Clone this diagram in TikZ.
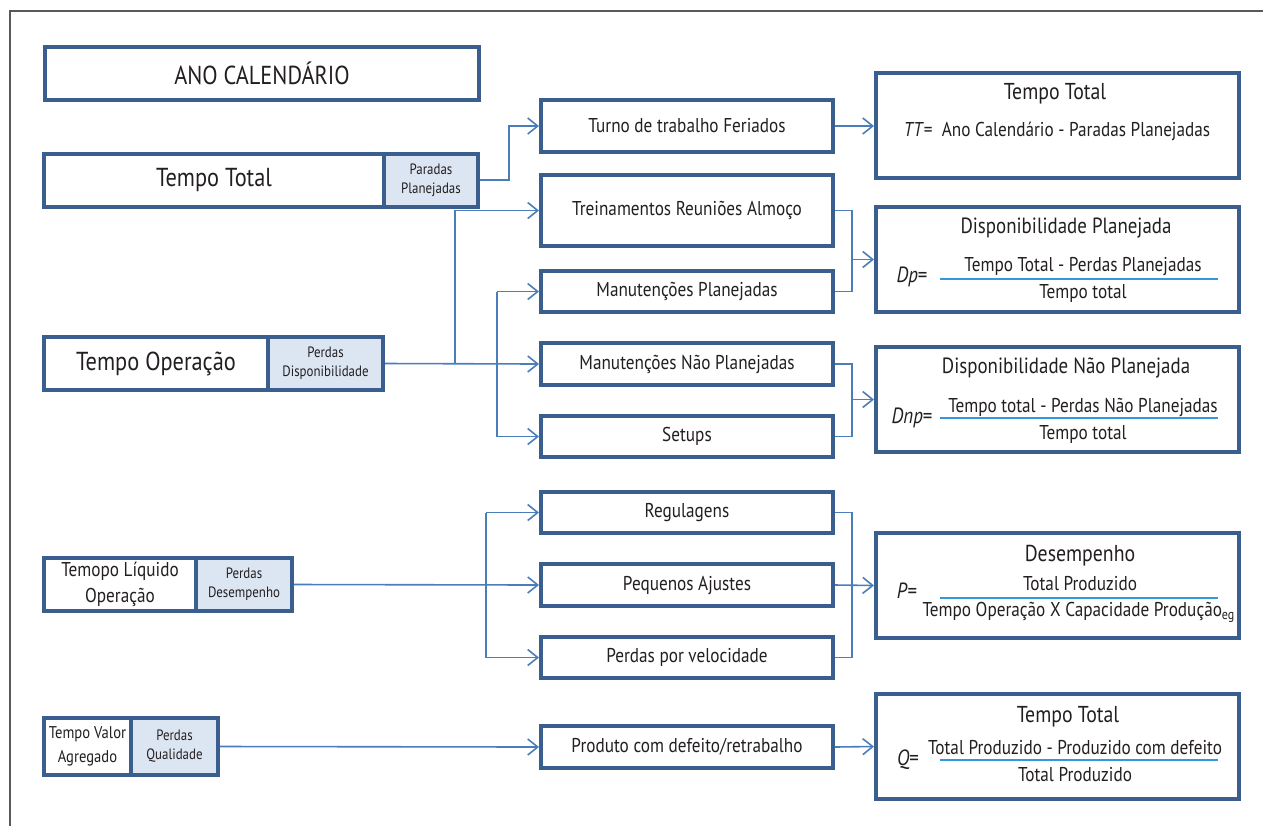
\documentclass[tikz,border=0pt]{standalone}
\usepackage{fontspec}
\setmainfont{PT Sans}[FakeStretch=0.86]
\usetikzlibrary{arrows.meta}
\definecolor{boxblue}{HTML}{3A5F8F}
\definecolor{linkblue}{HTML}{4A7EBB}
\definecolor{lossfill}{HTML}{DCE6F2}
\definecolor{fracblue}{HTML}{3399DD}
\definecolor{inkgray}{HTML}{231F20}
\newcommand{\fsz}[1]{\fontsize{#1}{#1}\selectfont}
\newcommand{\fszl}[2]{\fontsize{#1}{#2}\selectfont}

\begin{document}
\begin{tikzpicture}[x=0.5pt, y=-0.5pt, >={Straight Barb[length=5pt, width=8pt]},
    every node/.style={inner sep=0pt, text=inkgray},
    box/.style={draw=boxblue, line width=2pt, fill=white, align=center},
    loss/.style={box, fill=lossfill, font=\fszl{7.5}{9.5}},
    conn/.style={draw=linkblue, line width=0.8pt},
    frac/.style={draw=fracblue, line width=0.6pt}]
    \useasboundingbox (0,0) rectangle (1263,826);
    \draw[gray!70!black, line width=0.9pt] (10,826) -- (10,11) -- (1263,11);

    % Left column
    \node[box, minimum width=217pt, minimum height=26.5pt, font=\fsz{13}] (ano) at (262,73.5) {ANO CALENDÁRIO};
    \node[box, minimum width=170pt, minimum height=26.5pt, font=\fsz{13}] (tt) at (214,180) {Tempo Total};
    \node[loss, minimum width=47pt, minimum height=26.5pt] (pp) at (431,180) {Paradas\\Planejadas};
    \node[box, minimum width=112pt, minimum height=26.5pt, font=\fsz{13}] (top) at (156,363.5) {Tempo Operação};
    \node[loss, minimum width=57.5pt, minimum height=26.5pt] (pd) at (325.5,363.5) {Perdas\\Disponibilidade};
    \node[box, minimum width=76pt, minimum height=26.5pt, font=\fszl{10}{13}] (tlo) at (120,584.5) {Temopo Líquido\\Operação};
    \node[loss, minimum width=48pt, minimum height=26.5pt] (pdes) at (244,584.5) {Perdas\\Desempenho};
    \node[box, minimum width=43.5pt, minimum height=28.5pt, font=\fszl{8.5}{12}] (tva) at (87.5,746.5) {Tempo Valor\\Agregado};
    \node[loss, minimum width=43.5pt, minimum height=28.5pt] (pq) at (174.5,746.5) {Perdas\\Qualidade};

    % Middle column - losses
    \tikzset{cause/.style={box, minimum width=146pt, font=\fsz{10}}}
    \node[cause, minimum height=26pt] (turno) at (687,126) {Turno de trabalho Feriados};
    \node[cause, minimum height=35.5pt] (treina) at (687,210.5) {Treinamentos Reuniões Almoço};
    \node[cause, minimum height=20.5pt] (manplan) at (687,291.5) {Manutenções Planejadas};
    \node[cause, minimum height=21pt] (mannplan) at (687,364) {Manutenções Não Planejadas};
    \node[cause, minimum height=20.5pt] (setups) at (687,436.5) {Setups};
    \node[cause, minimum height=20.5pt] (regul) at (687,512.5) {Regulagens};
    \node[cause, minimum height=21pt] (ajustes) at (687,585) {Pequenos Ajustes};
    \node[cause, minimum height=20.5pt] (veloc) at (687,657.5) {Perdas por velocidade};
    \node[cause, minimum height=21pt] (defeito) at (687,747) {Produto com defeito/retrabalho};

    % Right column - indicators
    \tikzset{ind/.style={box, minimum width=181.5pt, minimum height=52.5pt}}
    \node[ind] (ftt) at (1057.5,125.5) {};
    \node[ind] (fdp) at (1057.5,259.5) {};
    \node[ind] (fdnp) at (1057.5,399.5) {};
    \node[ind] (fp) at (1057.5,585.5) {};
    \node[ind] (fq) at (1057.5,746.5) {};

    \node[font=\fsz{11.5}] (ftt-t) at (1055,94) {Tempo Total};
    \node[font=\fsz{10}] (ftt-f) at (1057,131) {\textit{TT}= \ Ano Calendário - Paradas Planejadas};

    \node[font=\fsz{11}] (fdp-t) at (1066,228) {Disponibilidade Planejada};
    \node[font=\fsz{11}] (fdp-l) at (912,277) {\textit{Dp}=};
    \node[font=\fsz{10}] (fdp-n) at (1083,267) {Tempo Total - Perdas Planejadas};
    \node[font=\fsz{10}] (fdp-d) at (1083,293) {Tempo total};
    \draw[frac] (940,279) -- (1218,279);

    \node[font=\fsz{11}] (fdnp-t) at (1066,368) {Disponibilidade Não Planejada};
    \node[font=\fsz{11}] (fdnp-l) at (912,418) {\textit{Dnp}=};
    \node[font=\fsz{10}] (fdnp-n) at (1083,407) {Tempo total - Perdas Não Planejadas};
    \node[font=\fsz{10}] (fdnp-d) at (1083,434) {Tempo total};
    \draw[frac] (940,418) -- (1218,418);

    \node[font=\fsz{11.5}] (fp-t) at (1080,556) {Desempenho};
    \node[font=\fsz{11}] (fp-l) at (907,591) {\textit{P}=};
    \node[font=\fsz{10}] (fp-n) at (1080,584) {Total Produzido};
    \node[font=\fsz{10}] (fp-d) at (1079,612) {Tempo Operação X Capacidade Produção\textsubscript{eg}};
    \draw[frac] (940,598) -- (1218,598);

    \node[font=\fsz{11.5}] (fq-t) at (1068,717) {Tempo Total};
    \node[font=\fsz{11}] (fq-l) at (908,760) {\textit{Q}=};
    \node[font=\fsz{10}] (fq-n) at (1075,748) {Total Produzido - Produzido com defeito};
    \node[font=\fsz{10}] (fq-d) at (1075,775) {Total Produzido};
    \draw[frac] (940,760) -- (1218,760);

    % Bus lines
    \coordinate (b1) at (509,0);
    \coordinate (b2) at (455,0);
    \coordinate (b3) at (497,0);
    \coordinate (b4) at (486,0);
    \coordinate (b5) at (852,0);

    % Connectors
    \draw[conn, ->] (pp.east) -- (pp.east -| b1) |- (turno.west);
    \draw[conn, ->] (turno.east) -- (ftt.west |- turno.east);

    \draw[conn, ->] (pd.east) -- (mannplan.west);
    \draw[conn, ->] (pd.east -| b2) |- (treina.west);
    \draw[conn, ->] (b3 |- manplan.west) -- (manplan.west);
    \draw[conn, ->] (b3 |- manplan.west) |- (setups.west);
    \draw[conn] (treina.east) -- (treina.east -| b5) |- (manplan.east);
    \draw[conn, ->] (b5 |- fdp.west) -- (fdp.west);
    \draw[conn] (mannplan.east) -- (mannplan.east -| b5) |- (setups.east);
    \draw[conn, ->] (b5 |- fdnp.west) -- (fdnp.west);

    \draw[conn, ->] (pdes.east) -- (ajustes.west);
    \draw[conn, ->] (b4 |- regul.west) -- (regul.west);
    \draw[conn, ->] (b4 |- regul.west) |- (veloc.west);
    \draw[conn] (regul.east) -- (regul.east -| b5) |- (veloc.east);
    \draw[conn, ->] (ajustes.east) -- (fp.west);

    \draw[conn, ->] (pq.east) -- (defeito.west);
    \draw[conn, ->] (defeito.east) -- (fq.west);
\end{tikzpicture}
\end{document}
